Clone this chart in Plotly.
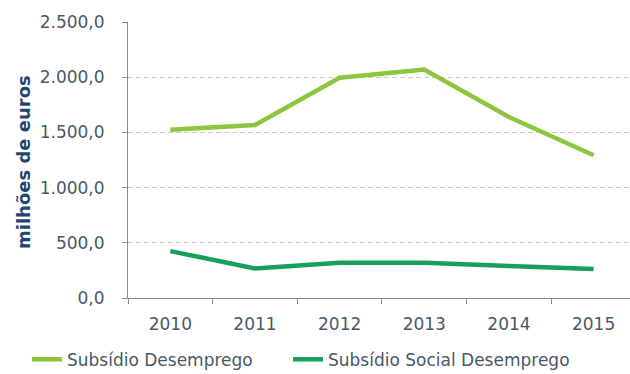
import plotly.graph_objects as go

# Annual spending on unemployment benefits (million euros)
years = ["2010", "2011", "2012", "2013", "2014", "2015"]
subsidio_desemprego = [1525, 1567, 1995, 2070, 1640, 1293]
subsidio_social = [425, 268, 320, 320, 290, 262]

y_ticks = [0, 500, 1000, 1500, 2000, 2500]

FONT = "DejaVu Sans"
TEXT = "#4a5866"
AXIS = "#8c8c8c"

fig = go.Figure()
fig.add_trace(go.Scatter(
    x=years, y=subsidio_desemprego, mode="lines",
    name="Subsídio Desemprego", legend="legend",
    line=dict(color="#8cc63f", width=4.5),
))
fig.add_trace(go.Scatter(
    x=years, y=subsidio_social, mode="lines",
    name="Subsídio Social Desemprego", legend="legend2",
    line=dict(color="#17a05a", width=4.5),
))

legend_style = dict(
    orientation="h", xref="container", yref="container",
    y=0.038, xanchor="left", yanchor="middle",
    font=dict(family=FONT, size=17, color=TEXT),
    itemwidth=30, bgcolor="rgba(0,0,0,0)",
)

fig.update_layout(
    width=630, height=374,
    margin=dict(l=128, r=0, t=22, b=76),
    paper_bgcolor="white", plot_bgcolor="white",
    separators=",.",
    font=dict(family=FONT, size=17, color=TEXT),
    showlegend=True,
    legend=dict(x=27 / 630, **legend_style),
    legend2=dict(x=288 / 630, **legend_style),
    xaxis=dict(
        type="category", range=[-0.5, 5.43],
        showgrid=False, showline=True, linecolor=AXIS, linewidth=1,
        ticks="outside", tickson="boundaries", ticklen=5, tickcolor=AXIS,
        ticklabelstandoff=11,
        tickfont=dict(family=FONT, size=17, color=TEXT),
    ),
    yaxis=dict(
        range=[0, 2500], tickvals=y_ticks, tickformat=",.1f",
        showgrid=True, gridcolor="#cfc9c9", griddash="5px,3px", gridwidth=1,
        showline=True, linecolor=AXIS, linewidth=1,
        ticks="outside", ticklen=5, tickcolor=AXIS,
        ticklabelstandoff=14, zeroline=False,
        tickfont=dict(family=FONT, size=17, color=TEXT),
    ),
    annotations=[dict(
        text="<b>milhões de euros</b>", textangle=-90,
        xref="paper", yref="paper", x=-0.207, y=0.493,
        xanchor="center", yanchor="middle", showarrow=False,
        font=dict(family=FONT, size=18, color="#1f4670"),
    )],
)

fig.write_html("out.html")
